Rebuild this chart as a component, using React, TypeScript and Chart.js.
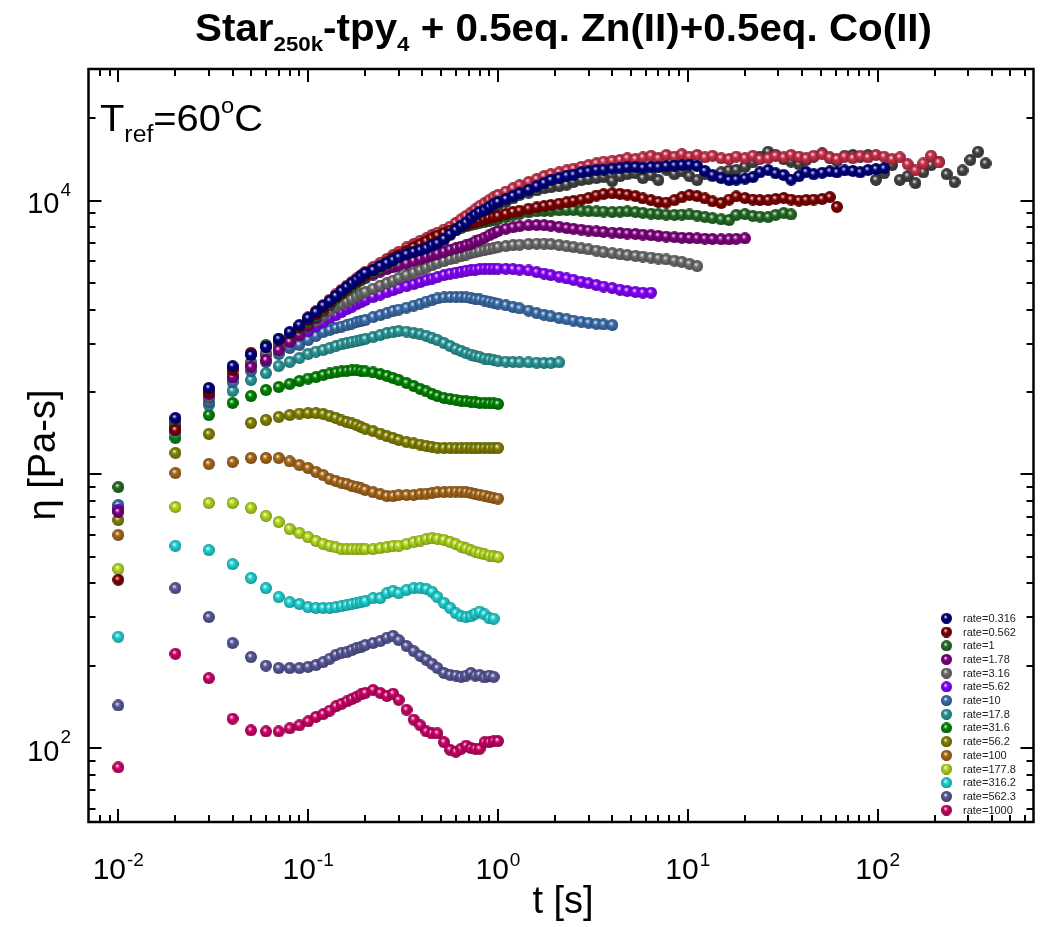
import React, { useEffect, useRef } from "react";
import { Chart, registerables } from "chart.js";

Chart.register(...registerables);

const FONT = '"Liberation Sans", Arial, Helvetica, sans-serif';

const X_MIN = 0.00697;
const X_MAX = 662;
const Y_MIN = 53.65;
const Y_MAX = 30300;

const X_LABEL_EXPONENTS = [-2, -1, 0, 1, 2];
const Y_LABEL_EXPONENTS = [2, 4];

// time grid (s) shared by every series up to 1 s
const T_SHORT = [0.01, 0.02, 0.03, 0.04, 0.05, 0.06, 0.07, 0.08, 0.09, 0.1, 0.11, 0.12, 0.13, 0.14, 0.15, 0.16, 0.17, 0.18, 0.19, 0.2,
  0.22, 0.24, 0.26, 0.28, 0.3, 0.33, 0.36, 0.39, 0.42, 0.45, 0.48, 0.52, 0.56, 0.6, 0.64, 0.68, 0.72, 0.76, 0.8, 0.85, 0.9, 0.95, 1];
// time grid (s) beyond 1 s, used by the slower rates
const T_LONG = [1.1, 1.2, 1.3, 1.45, 1.6, 1.75, 1.9, 2.1, 2.3, 2.5, 2.75, 3.0, 3.3, 3.6, 4.0, 4.4, 4.8, 5.3, 5.8, 6.4, 7.0, 7.7, 8.5, 9.3,
  10.2, 11.2, 12.3, 13.5, 15, 16.5, 18, 20, 22, 24, 26.5, 29, 32, 35, 38.5, 42, 46, 51, 56, 61, 67, 74, 81, 89, 98, 108, 119, 131, 144,
  158, 174, 191, 210, 231, 254, 280, 308, 338, 370];

const LABELS = ["rate=0.316", "rate=0.562", "rate=1", "rate=1.78", "rate=3.16", "rate=5.62", "rate=10", "rate=17.8", "rate=31.6",
  "rate=56.2", "rate=100", "rate=177.8", "rate=316.2", "rate=562.3", "rate=1000", "rate=0.178", "rate=0.1"];
const LEGEND_COUNT = 15;
const COLORS = ["#00007e", "#7e0000", "#246a24", "#7e007e", "#6c6c6c", "#8400ff", "#3a6eac", "#2a9898", "#008400", "#828200",
  "#a8681a", "#b2d81c", "#1ed2d2", "#58589a", "#cc0066", "#c8304a", "#424242"];

// viscosity (Pa s) per rate: short part on T_SHORT, long part on T_LONG
const R0316_S = [null, 1607, 2070, 2489, 2731, 2924, 3126, 3311, 3513, 3727, 3918, 4139, 4306, 4490, 4677, 4837, 5001, 5150, 5308, 5445,
  5578, 5770, 5917, 6070, 6225, 6378, 6500, 6600, 6711, 6881, 6996, 7244, 7556, 7816, 8087, 8321, 8650, 8876, 9098, 9248, 9482, 9727, 9890];
const R0316_L = [10150, 10400, 10650, 10950, 11300, 11600, 11910, 12100, 12350, 12450, 12700, 12800, 12950, 13000, 13100, 13150, 13250,
  13270, 13200, 13300, 13270, 13390, 13450, 13500, 13550, 13400, 12850, 12400, 12100, 11900, 11950, 12050, 12200, 12700, 12950, 12600,
  12420, 11950, 12300, 12730, 12500, 12650, 12800, 12700, 12900, 12850, 12700, 12950, 13050, 13130];

const R0562_S = [412, 1452, 1998, 2405, 2780, 2924, 3097, 3286, 3457, 3664, 3855, 4055, 4262, 4449, 4596, 4796, 4960, 5083, 5215, 5349,
  5578, 5770, 5969, 6174, 6330, 6545, 6767, 6939, 7114, 7293, 7459, 7627, 7781, 7907, 8053, 8150, 8259, 8360, 8433, 8531, 8650, 8717, 8787];
const R0562_L = [8950, 9098, 9200, 9350, 9460, 9560, 9650, 9760, 9870, 9979, 10100, 10230, 10450, 10580, 10640, 10600, 10520, 10400,
  10200, 10050, 9890, 9850, 10050, 10300, 10490, 10400, 10200, 9950, 9810, 10100, 10370, 10230, 10100, 10060, 10060, 10150, 10230, 10100,
  10020, 10060, 10100, 10150, 10310, 9500];

const R1_S = [899, 1556, 2034, 2449, 2754, 2971, 3126, 3286, 3428, 3603, 3793, 3990, 4188, 4374, 4567, 4715, 4857, 5001, 5130, 5260,
  5484, 5675, 5866, 6040, 6225, 6437, 6655, 6823, 6996, 7173, 7345, 7499, 7691, 7816, 7943, 8053, 8150, 8222, 8295, 8360, 8433, 8505, 8570];
const R1_L = [8720, 8876, 8960, 9060, 9140, 9180, 9204, 9220, 9248, 9248, 9200, 9162, 9140, 9130, 9098, 9120, 9140, 9100, 9030, 8970,
  8935, 8890, 8876, 8900, 8910, 8831, 8730, 8640, 8550, 8497, 8876, 8935, 8800, 8750, 8720, 8876, 9016, 8910];

const R178_S = [729, 1478, 1967, 2269, 2471, 2618, 2847, 3048, 3230, 3486, 3727, 3952, 4156, 4411, 4636, 4796, 4918, 5044, 5130, 5215,
  5371, 5508, 5625, 5722, 5795, 5894, 6019, 6122, 6225, 6330, 6411, 6519, 6628, 6711, 6795, 6881, 6960, 7100, 7200, 7330, 7480, 7620, 7750];
const R178_L = [7900, 8000, 8070, 8130, 8150, 8140, 8100, 8030, 7950, 7900, 7840, 7780, 7730, 7690, 7650, 7620, 7590, 7560, 7520, 7480,
  7440, 7400, 7360, 7330, 7310, 7290, 7270, 7250, 7230, 7230, 7260, 7290];

const R316_S = [null, 1517, 1918, 2307, 2575, 2780, 2945, 3071, 3258, 3457, 3634, 3793, 3952, 4092, 4188, 4281, 4374, 4470, 4567, 4636,
  4775, 4898, 5001, 5106, 5215, 5349, 5462, 5578, 5696, 5817, 5917, 6019, 6122, 6200, 6277, 6357, 6437, 6491, 6545, 6600, 6656, 6711, 6767];
const R316_L = [6830, 6881, 6910, 6950, 6968, 6968, 6940, 6890, 6820, 6770, 6700, 6640, 6570, 6491, 6437, 6370, 6330, 6290, 6250, 6200,
  6150, 6100, 6040, 5980, 5880, 5770];

const R562_S = [741, 1478, 1918, 2269, 2512, 2731, 2945, 3097, 3230, 3342, 3486, 3603, 3727, 3821, 3918, 4018, 4102, 4188, 4262, 4337,
  4449, 4540, 4636, 4715, 4796, 4877, 4960, 5044, 5130, 5194, 5260, 5349, 5416, 5462, 5508, 5554, 5578, 5601, 5625, 5649, 5649, 5649, 5649];
const R562_L = [5640, 5625, 5600, 5560, 5484, 5420, 5350, 5280, 5200, 5140, 5060, 4990, 4920, 4857, 4796, 4730, 4680, 4640, 4613, 4613];

const R10_S = [773, 1452, 1838, 2174, 2388, 2575, 2754, 2897, 2971, 3097, 3206, 3311, 3371, 3428, 3470, 3513, 3556, 3603, 3634, 3664,
  3758, 3821, 3886, 3952, 4003, 4070, 4139, 4209, 4281, 4337, 4394, 4430, 4449, 4449, 4449, 4430, 4411, 4374, 4356, 4319, 4281, 4245, 4209];
const R10_L = [4150, 4092, 4040, 3970, 3886, 3830, 3780, 3730, 3690, 3650, 3610, 3580, 3550, 3530, 3513];

const R17_S = [760, 1417, 1792, 2018, 2213, 2345, 2489, 2575, 2663, 2754, 2812, 2847, 2897, 2945, 2983, 3020, 3048, 3071, 3097, 3126,
  3177, 3230, 3286, 3311, 3342, 3327, 3286, 3245, 3206, 3148, 3097, 3020, 2945, 2871, 2825, 2774, 2742, 2704, 2685, 2649, 2630, 2618, 2594];
const R17_L = [2585, 2575, 2570, 2565, 2560, 2553, 2553, 2565];

const R31_S = [741, 1359, 1648, 1824, 1933, 2034, 2086, 2139, 2194, 2239, 2269, 2307, 2337, 2357, 2377, 2388, 2399, 2399, 2388, 2377,
  2357, 2327, 2291, 2250, 2213, 2158, 2104, 2051, 2009, 1967, 1933, 1901, 1886, 1872, 1855, 1847, 1840, 1832, 1824, 1824, 1816, 1816, 1808];

const R56_S = [681, 1198, 1406, null, 1542, 1581, 1622, 1648, 1668, 1675, 1675, 1663, 1633, 1607, 1574, 1552, 1535, 1514, 1489, 1469,
  1439, 1409, 1380, 1358, 1336, 1313, 1297, 1285, 1270, 1259, 1253, 1248, 1250, 1246, 1248, 1250, 1247, 1246, 1248, 1249, 1247, 1248, 1250];

const R100_S = [601, 1012, 1092, 1110, 1148, 1148, 1148, 1115, 1082, 1055, 1021, 995, 962, 946, 931, 923, 908, 899, 888, 877,
  861, 847, 833, 833, 841, 841, 841, 847, 851, 855, 861, 861, 865, 865, 865, 861, 855, 847, 844, 837, 826, 820, 816];

const R177_S = [451, 760, 786, 786, 754, 705, 670, 632, 611, 590, 571, 557, 548, 541, 533, 533, 533, 533, 533, 533,
  533, 538, 542, 548, 548, 557, 566, 573, 581, 584, 582, 576, 566, 556, 545, 536, 528, 521, 516, 510, 505, 502, 499];

const R316b_S = [255, 548, 529, 470, 418, 384, 356, 341, 336, 327, 325, 325, 325, 327, 330, 333, 336, 339, 341, 344,
  353, 353, 368, 375, 368, 378, 384, 384, 381, 372, 356, 339, 325, 311, 303, 301, 303, 310, 315, 308, 298, 297, null];

const R562b_S = [143, 384, 301, 242, 215, 200, 196, 196, 196, 198, 201, 206, 212, 219, 223, 224, 228, 232, 234, 238,
  242, 246, 253, 257, 248, 236, 226, 217, 210, 203, 196, 188, 185, 184, 182, 184, 188, 184, 185, 181, 184, 182, null];

const R1000_S = [85, 221, 180, 128, 116, 115, 115, 118, 121, 125, 130, 133, 137, 142, 145, 148, 151, 154, 157, 159,
  163, 159, 155, 158, 150, 138, 127, 121, 115, 113, 113, 105, 98.5, 96.9, 99.4, 102, 100, 99.4, 99.4, 105, 105, 106, 106];

const R0178_S = [null, null, null, null, null, null, null, null, null, 3750, 3950, 4150, 4350, 4550, 4730, 4900, 5050, 5200, 5350, 5500,
  5720, 5930, 6130, 6330, 6500, 6750, 6950, 7150, 7300, 7500, 7650, 7850, 8050, 8300, 8550, 8800, 9050, 9300, 9550, 9800, 10050, 10300, 10500];
const R0178_L = [10800, 11100, 11400, 11700, 12000, 12300, 12500, 12700, 12900, 13100, 13300, 13500, 13700, 13900, 14000, 14100, 14300,
  14200, 14400, 14600, 14300, 14700, 14500, 14800, 14500, 14700, 14400, 14600, 14300, 14200, 14500, 14300, 14600, 14200, 14300, 14600,
  14400, 14700, 14500, 14300, 14600, 14800, 14400, 14200, 14500, 14300, 14600, 14400, 14700, 14500, 14200, 14400, 13600, 12900, 13700,
  14600, 13800];

const R01_S = [null, null, null, null, null, null, null, null, null, null, null, null, null, null, null, null, null, null, null, null,
  null, null, null, null, null, null, null, null, null, null, 6900, 7200, 7500, 7800, 8050, 8300, 8500, 8700, 8900, 9100, 9300, 9500, 9650];
const R01_L = [9900, 10200, 10500, 10700, 10900, 11100, 11200, 11300, 11450, 11700, 11900, 12000, 12100, 12200, 11800, 12300, 12500,
  12600, 12100, 12400, 11900, 13000, 12500, 12800, 12300, 11900, 12500, 12300, 12700, 12900, 12960, 13300, 13800, 14500, 15100, 14700,
  14200, 13900, 13600, 14100, 14500, 14900, 14300, 14000, 14600, 14700, 14500, 14690, 11920, 12600, 13500, 11920, 12300, 11600, 12700,
  13500, 13900, 12500, 11700, 12900, 14100, 15100, 13700];

const SERIES_SHORT = [R0316_S, R0562_S, R1_S, R178_S, R316_S, R562_S, R10_S, R17_S, R31_S, R56_S, R100_S, R177_S, R316b_S, R562b_S,
  R1000_S, R0178_S, R01_S];
const SERIES_LONG = [R0316_L, R0562_L, R1_L, R178_L, R316_L, R562_L, R10_L, R17_L, [], [], [], [], [], [], [], R0178_L, R01_L];

function hexToRgb(h: string) {
  const n = parseInt(h.slice(1), 16);
  return [(n >> 16) & 255, (n >> 8) & 255, n & 255];
}
function mix(h: string, to: number[], f: number) {
  const c = hexToRgb(h);
  return `rgb(${c.map((v, i) => Math.round(v + (to[i] - v) * f)).join(",")})`;
}
function makeSphere(color: string, d = 12) {
  const c = document.createElement("canvas");
  c.width = d;
  c.height = d;
  const ctx = c.getContext("2d")!;
  const r = d / 2;
  const g = ctx.createRadialGradient(r - r * 0.22, r - r * 0.32, 0, r, r, r);
  g.addColorStop(0, "rgb(255,255,255)");
  g.addColorStop(0.15, mix(color, [255, 255, 255], 0.6));
  g.addColorStop(0.4, color);
  g.addColorStop(0.85, mix(color, [0, 0, 0], 0.2));
  g.addColorStop(1, mix(color, [0, 0, 0], 0.4));
  ctx.fillStyle = g;
  ctx.beginPath();
  ctx.arc(r, r, r, 0, Math.PI * 2);
  ctx.fill();
  return c;
}

type Run = { text: string; size: number; dy: number; bold?: boolean };
function drawRuns(ctx: CanvasRenderingContext2D, runs: Run[], x: number, baseline: number, targetWidth?: number) {
  const widths = runs.map((r) => {
    ctx.font = `${r.bold ? "bold " : ""}${r.size}px ${FONT}`;
    return ctx.measureText(r.text).width;
  });
  const total = widths.reduce((a, b) => a + b, 0);
  const sx = targetWidth ? targetWidth / total : 1;
  ctx.save();
  ctx.translate(x, baseline);
  ctx.scale(sx, 1);
  ctx.textAlign = "left";
  ctx.textBaseline = "alphabetic";
  let cx = 0;
  runs.forEach((r, i) => {
    ctx.font = `${r.bold ? "bold " : ""}${r.size}px ${FONT}`;
    ctx.fillText(r.text, cx, r.dy);
    cx += widths[i];
  });
  ctx.restore();
  return total * sx;
}

function powWidth(ctx: CanvasRenderingContext2D, exp: number, size: number, sup: number) {
  ctx.font = `${size}px ${FONT}`;
  const a = ctx.measureText("10").width;
  ctx.font = `${sup}px ${FONT}`;
  const b = ctx.measureText(String(exp)).width;
  return a + b + 1;
}
function drawPow(ctx: CanvasRenderingContext2D, exp: number, x0: number, base: number, supBase: number, size: number, sup: number) {
  ctx.textAlign = "left";
  ctx.textBaseline = "alphabetic";
  ctx.font = `${size}px ${FONT}`;
  ctx.fillText("10", x0, base);
  const a = ctx.measureText("10").width;
  ctx.font = `${sup}px ${FONT}`;
  ctx.fillText(String(exp), x0 + a + 1, supBase);
}

const decorPlugin = {
  id: "decor",
  afterDatasetsDraw(chart: any) {
    const ctx: CanvasRenderingContext2D = chart.ctx;
    const { left, right, top, bottom } = chart.chartArea;
    const xs = chart.scales.x;
    const ys = chart.scales.y;
    ctx.save();
    ctx.strokeStyle = "#000";
    ctx.lineWidth = 2;
    ctx.beginPath();
    for (let e = -3; e <= 5; e++) {
      for (let m = 1; m <= 9; m++) {
        const v = m * Math.pow(10, e);
        const len = m === 1 ? 13 : 7;
        if (v > X_MIN && v < X_MAX) {
          const px = Math.round(xs.getPixelForValue(v));
          if (px > left + 2 && px < right - 2) {
            ctx.moveTo(px, bottom);
            ctx.lineTo(px, bottom - len);
            ctx.moveTo(px, top);
            ctx.lineTo(px, top + len);
          }
        }
        if (v > Y_MIN && v < Y_MAX) {
          const py = Math.round(ys.getPixelForValue(v));
          if (py > top + 2 && py < bottom - 2) {
            ctx.moveTo(left, py);
            ctx.lineTo(left + len, py);
            ctx.moveTo(right, py);
            ctx.lineTo(right - len, py);
          }
        }
      }
    }
    ctx.stroke();
    ctx.lineWidth = 2.5;
    ctx.strokeRect(left, top, right - left, bottom - top);
    ctx.restore();
  },
  afterDraw(chart: any) {
    const ctx: CanvasRenderingContext2D = chart.ctx;
    const xs = chart.scales.x;
    const ys = chart.scales.y;
    ctx.save();
    ctx.fillStyle = "#000";
    // x tick labels
    X_LABEL_EXPONENTS.forEach((e) => {
      const px = xs.getPixelForValue(Math.pow(10, e));
      const w = powWidth(ctx, e, 30, 19);
      drawPow(ctx, e, px - w / 2, 879, 866, 30, 19);
    });
    // y tick labels
    Y_LABEL_EXPONENTS.forEach((e) => {
      const py = ys.getPixelForValue(Math.pow(10, e));
      const w = powWidth(ctx, e, 29, 19);
      drawPow(ctx, e, 71 - w, py + 12.5, py - 5, 29, 19);
    });
    // axis titles
    ctx.font = `38px ${FONT}`;
    ctx.textAlign = "center";
    ctx.textBaseline = "alphabetic";
    ctx.fillText("t [s]", 563, 913);
    ctx.save();
    ctx.translate(55, 455);
    ctx.rotate(-Math.PI / 2);
    ctx.fillText("\u03b7 [Pa-s]", 0, 0);
    ctx.restore();
    // title
    drawRuns(
      ctx,
      [
        { text: "Star", size: 38, dy: 0, bold: true },
        { text: "250k", size: 21, dy: 10, bold: true },
        { text: "-tpy", size: 38, dy: 0, bold: true },
        { text: "4", size: 21, dy: 10, bold: true },
        { text: " + 0.5eq. Zn(II)+0.5eq. Co(II)", size: 38, dy: 0, bold: true },
      ],
      195,
      41,
      737
    );
    // T_ref annotation
    drawRuns(
      ctx,
      [
        { text: "T", size: 37, dy: 0 },
        { text: "ref", size: 23, dy: 11 },
        { text: "=60", size: 37, dy: 0 },
        { text: "o", size: 22, dy: -18 },
        { text: "C", size: 37, dy: 0 },
      ],
      100,
      131,
      163
    );
    // legend
    const spheres = chart.$spheres as HTMLCanvasElement[];
    ctx.font = `11px ${FONT}`;
    ctx.textAlign = "left";
    ctx.textBaseline = "middle";
    ctx.fillStyle = "#222";
    for (let i = 0; i < LEGEND_COUNT; i++) {
      const y = 618.3 + i * 13.7;
      const s = spheres[i];
      ctx.drawImage(s, 946.5 - s.width / 2, y - s.height / 2);
      ctx.fillText(LABELS[i], 963, y + 0.5);
    }
    ctx.restore();
  },
};

export default function App() {
  const ref = useRef<HTMLCanvasElement | null>(null);
  useEffect(() => {
    const canvas = ref.current!;
    const spheres = COLORS.map((c) => makeSphere(c, 12));
    const legendSpheres = COLORS.map((c) => makeSphere(c, 11));
    const datasets = SERIES_SHORT.map((s, i) => {
      const pts: { x: number; y: number }[] = [];
      s.forEach((v, k) => {
        if (v != null) pts.push({ x: T_SHORT[k], y: v as number });
      });
      SERIES_LONG[i].forEach((v, k) => pts.push({ x: T_LONG[k], y: v }));
      return {
        label: LABELS[i],
        data: pts,
        showLine: false,
        pointStyle: spheres[i] as any,
        pointRadius: 6,
        borderColor: COLORS[i],
        backgroundColor: COLORS[i],
      };
    });
    const chart: any = new Chart(canvas, {
      type: "scatter",
      data: { datasets },
      options: {
        responsive: false,
        maintainAspectRatio: false,
        animation: false,
        devicePixelRatio: 1,
        events: [],
        layout: { padding: { left: 88.5, right: 1051 - 1033.5, top: 69, bottom: 927 - 822 } },
        scales: {
          x: { type: "logarithmic", min: X_MIN, max: X_MAX, display: false },
          y: { type: "logarithmic", min: Y_MIN, max: Y_MAX, display: false },
        },
        plugins: { legend: { display: false }, tooltip: { enabled: false }, title: { display: false } },
      },
      plugins: [
        {
          id: "spheresHolder",
          beforeInit(c: any) {
            c.$spheres = legendSpheres;
          },
        },
        decorPlugin,
      ],
    } as any);
    return () => chart.destroy();
  }, []);
  return (
    <div style={{ position: "absolute", left: 0, top: 0, width: 1051, height: 927, background: "#fff" }}>
      <canvas ref={ref} width={1051} height={927} style={{ display: "block", width: 1051, height: 927 }} />
    </div>
  );
}
